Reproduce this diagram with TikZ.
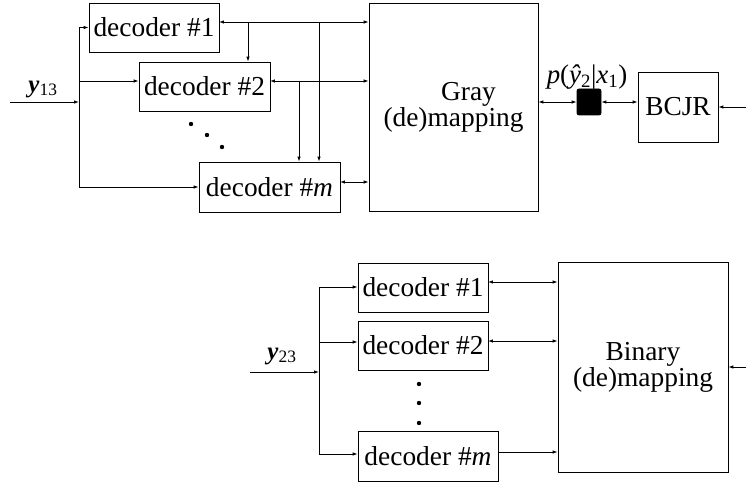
\documentclass[tikz,border=0pt]{standalone}
\usepackage{fontspec}
\setmainfont{Liberation Serif}
\usetikzlibrary{positioning,calc,arrows.meta}

\begin{document}
\begin{tikzpicture}[x=1bp,y=-1bp,line width=0.8pt,>={Latex[length=5pt,width=3.5pt]},
  blk/.style={draw,inner sep=0pt,font=\fontsize{27.5}{19}\selectfont,align=center},
  lbl/.style={inner sep=0pt,font=\fontsize{27}{27}\selectfont}]
\useasboundingbox (0,0) rectangle (746,482);
% upper part: Gray mapping
\node[blk,minimum width=130bp,minimum height=49bp] (t1) at (154,27.5) {decoder \#1};
\node[blk,minimum width=131bp,minimum height=49bp] (t2) at (204.5,86.5) {decoder \#2};
\node[blk,minimum width=141bp,minimum height=50bp] (tm) at (269.5,187) {decoder \#\textit{m}};
\node[blk,minimum width=169bp,minimum height=208bp] (gray) at (453.5,107) {\hspace*{30bp}Gray\\(de)mapping};
\node[draw,fill=black,rounded corners=2pt,minimum width=24bp,minimum height=26bp,inner sep=0pt] (sq) at (589,102) {};
\node[blk,minimum width=80bp,minimum height=70bp] (bcjr) at (678,107) {BCJR};
\node[lbl] (p) at (587,77) {\textit{p}(\textit{ŷ}\textsubscript{2}|\textit{x}\textsubscript{1})};
\node[lbl,font=\fontsize{25}{25}\selectfont] (y13) at (43,89) {\textbf{\textit{y}}\textsubscript{13}};
\coordinate (in1) at (10,102);
\coordinate (bus1) at (79,102);
\coordinate (r1) at (219,22);
\coordinate (r2) at (270,81);
\coordinate (rm) at (340,182);
\coordinate (j1) at (248,22);
\coordinate (j2) at (319,22);
\coordinate (j3) at (299,81);
\coordinate (out1) at (746,107);
\draw[->] (in1) -- (bus1);
\draw (bus1 |- t1.west) -- (bus1 |- tm.west);
\draw[->] (bus1 |- t1.west) -- (t1.west);
\draw[->] (bus1 |- 0,81) -- (t2.west |- 0,81);
\draw[->] (bus1 |- tm.west) -- (tm.west);
\draw[<->] (r1) -- (r1 -| gray.west);
\draw[<->] (r2) -- (r2 -| gray.west);
\draw[<->] (rm) -- (rm -| gray.west);
\draw[->] (j1) -- (j1 |- t2.north);
\draw[->] (j2) -- (j2 |- tm.north);
\draw[->] (j3) -- (j3 |- tm.north);
\draw[<->] (gray.east |- sq.west) -- (sq.west);
\draw[<->] (sq.east) -- (sq.east -| bcjr.west);
\draw[->] (out1) -- (bcjr.east);
\foreach \px/\py in {191/124,207/135,222/147}
  \fill (\px,\py) circle (2.2);
% lower part: Binary mapping
\node[blk,minimum width=130bp,minimum height=49bp] (b1) at (423,287.5) {decoder \#1};
\node[blk,minimum width=130bp,minimum height=49bp] (b2) at (423,345.5) {decoder \#2};
\node[blk,minimum width=140bp,minimum height=50bp] (bm) at (428,456) {decoder \#\textit{m}};
\node[blk,minimum width=170bp,minimum height=210bp] (bin) at (643,367) {Binary\\(de)mapping};
\node[lbl,font=\fontsize{25}{25}\selectfont] (y23) at (282,356) {\textbf{\textit{y}}\textsubscript{23}};
\coordinate (in2) at (250,372);
\coordinate (bus2) at (319,372);
\coordinate (s1) at (488,282);
\coordinate (s2) at (488,341);
\coordinate (sm) at (498,452);
\coordinate (out2) at (746,367);
\draw[->] (in2) -- (bus2);
\draw (bus2 |- 0,287) -- (bus2 |- 0,454);
\draw[->] (bus2 |- 0,287) -- (b1.west |- 0,287);
\draw[->] (bus2 |- 0,342) -- (b2.west |- 0,342);
\draw[->] (bus2 |- 0,454) -- (bm.west |- 0,454);
\draw[<->] (s1) -- (s1 -| bin.west);
\draw[<->] (s2) -- (s2 -| bin.west);
\draw[->] (sm) -- (sm -| bin.west);
\draw[->] (out2) -- (bin.east);
\foreach \py in {384,403,423}
  \fill (419,\py) circle (2.2);
\end{tikzpicture}
\end{document}
